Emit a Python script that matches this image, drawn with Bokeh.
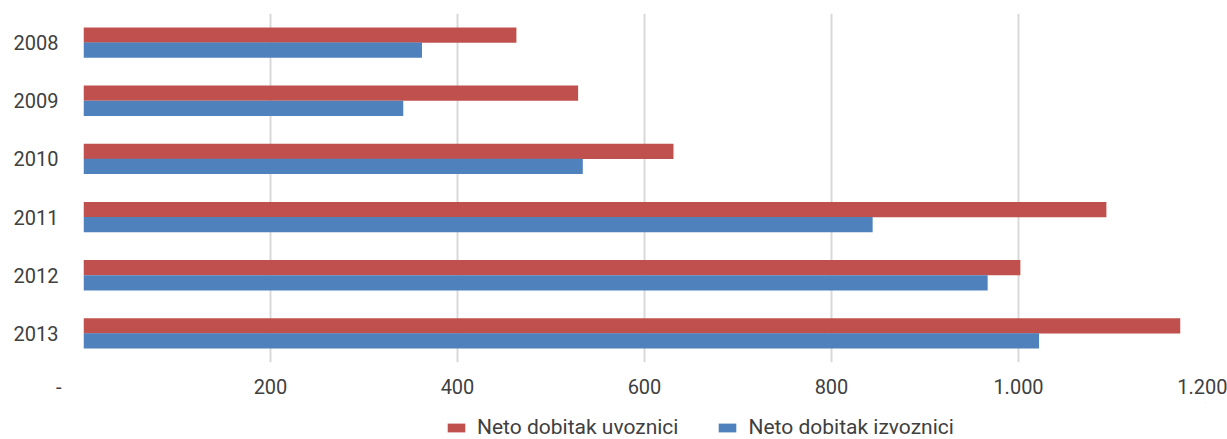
from bokeh.plotting import figure
from bokeh.layouts import column
from bokeh.models import FactorRange, Range1d, FixedTicker, Legend, LegendItem, ColumnDataSource
from bokeh.transform import dodge
from bokeh.embed import file_html
from bokeh.resources import INLINE

years = ["2008", "2009", "2010", "2011", "2012", "2013"]
uvoznici = [463, 529, 631, 1094, 1002, 1173]
izvoznici = [362, 342, 534, 844, 967, 1022]
x_ticks = [0, 200, 400, 600, 800, 1000, 1200]
x_labels = ["-" + "\u00a0" * 10, "200", "400", "600", "800", "1.000", "1.200"]
series_names = ["Neto dobitak uvoznici", "Neto dobitak izvoznici"]
series_colors = ["#C0504D", "#4F81BD"]

FONT = "Roboto"
src = ColumnDataSource(dict(year=years, uvoz=uvoznici, izvoz=izvoznici))

p = figure(y_range=FactorRange(factors=list(reversed(years)), range_padding=0),
           x_range=Range1d(0, 1200),
           width=1227, height=402,
           min_border_left=83, min_border_right=22, min_border_top=13, min_border_bottom=40,
           output_backend="svg", toolbar_location=None)

p.hbar(y=dodge("year", 0.13, range=p.y_range), right="uvoz", left=0, height=0.262,
       source=src, fill_color=series_colors[0], line_color=None)
p.hbar(y=dodge("year", -0.13, range=p.y_range), right="izvoz", left=0, height=0.262,
       source=src, fill_color=series_colors[1], line_color=None)

p.outline_line_color = None
p.ygrid.grid_line_color = None
p.xgrid.grid_line_color = "#D9D9D9"
p.xgrid.grid_line_width = 2
p.xaxis.ticker = FixedTicker(ticks=x_ticks)
p.xaxis.major_label_overrides = {t: l for t, l in zip(x_ticks, x_labels)}

for ax in (p.xaxis, p.yaxis):
    ax.axis_line_color = None
    ax.major_tick_line_color = None
    ax.minor_tick_line_color = None
    ax.major_label_text_font = FONT
    ax.major_label_text_font_size = "20px"
    ax.major_label_text_color = "#404040"
p.xaxis.major_label_standoff = 6
p.yaxis.major_label_standoff = 19

# legend strip below the chart (its frame is aligned with the chart frame)
pl = figure(width=1227, height=37, x_range=Range1d(0, 1), y_range=Range1d(0, 1),
            min_border_left=0, min_border_right=0, min_border_top=0, min_border_bottom=0,
            output_backend="svg", toolbar_location=None)
pl.axis.visible = False
pl.grid.visible = False
pl.outline_line_color = None
items = []
for name, col in zip(series_names, series_colors):
    # the single row lies outside the strip's range, so only the legend swatch shows
    r = pl.hbar(y=[5], right=[5], left=[4], height=0.1, fill_color=col, line_color=None)
    items.append(LegendItem(label=name, renderers=[r]))

legend = Legend(items=items, orientation="horizontal", location=(362, 0),
                label_text_font=FONT, label_text_font_size="21px", label_text_color="#404040",
                glyph_width=22, glyph_height=11, label_standoff=10, spacing=38,
                border_line_color=None, background_fill_alpha=0, margin=0, padding=0)
pl.add_layout(legend, "center")

layout = column(p, pl, spacing=0)
open("out.html", "w").write(file_html(layout, INLINE))
